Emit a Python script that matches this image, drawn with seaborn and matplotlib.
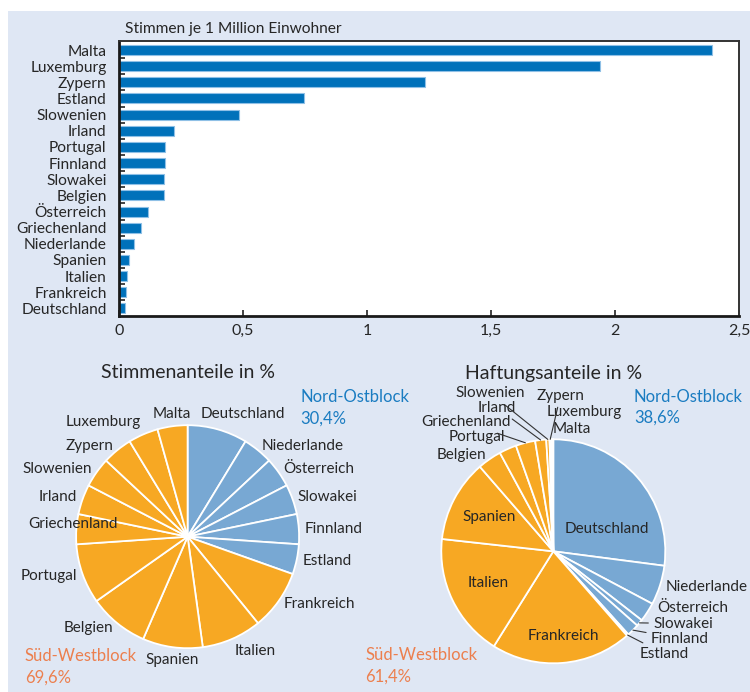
import numpy as np
import pandas as pd
import matplotlib
matplotlib.use("Agg")
import matplotlib.pyplot as plt
import seaborn as sns
from matplotlib.patches import Rectangle

# --- Daten ---
laender_balken = ["Malta", "Luxemburg", "Zypern", "Estland", "Slowenien", "Irland",
                  "Portugal", "Finnland", "Slowakei", "Belgien", "Österreich",
                  "Griechenland", "Niederlande", "Spanien", "Italien", "Frankreich",
                  "Deutschland"]
stimmen_je_mio = [2.39, 1.94, 1.235, 0.745, 0.485, 0.22, 0.187, 0.184, 0.183, 0.181,
                  0.117, 0.087, 0.059, 0.042, 0.031, 0.030, 0.023]

laender_torte = ["Deutschland", "Niederlande", "Österreich", "Slowakei", "Finnland",
                 "Estland", "Frankreich", "Italien", "Spanien", "Belgien", "Portugal",
                 "Griechenland", "Irland", "Slowenien", "Zypern", "Luxemburg", "Malta"]
block = ["NO"] * 6 + ["SW"] * 11
stimmenanteile = [8.70, 4.35, 4.35, 4.35, 4.35, 4.35, 8.70, 8.70, 8.70, 8.70, 8.70,
                  4.35, 4.35, 4.35, 4.35, 4.35, 4.35]
haftungsanteile = [27.07, 5.70, 2.78, 0.99, 1.79, 0.26, 20.33, 17.86, 11.87, 3.47, 2.50,
                   2.81, 1.59, 0.47, 0.20, 0.25, 0.09]

x_ticks = [0, 0.5, 1, 1.5, 2, 2.5]

# --- Farben / Stil ---
BG = "#dfe7f4"
BAR_BLUE = "#0071ba"
PIE_BLUE = "#78a8d3"
PIE_ORANGE = "#f7a823"
TXT_BLUE = "#1a7cc1"
TXT_ORANGE = "#ec7f4e"
TXT = "#262626"
LBL = 11  # Schriftgroesse Beschriftungen

sns.set_theme(style="white")
plt.rcParams["font.family"] = ["Lato", "DejaVu Sans"]
plt.rcParams["text.color"] = TXT

fig = plt.figure(figsize=(7.5, 6.92), dpi=100, facecolor="white")
W, H = 750, 692
fig.patches.append(Rectangle((8 / W, 0), 1, 1 - 11 / H, transform=fig.transFigure,
                             facecolor=BG, edgecolor="none", zorder=-10))


def fmt_de(v):
    return f"{v:g}".replace(".", ",")


# --- Balkendiagramm ---
ax = fig.add_axes([119 / W, 1 - 316 / H, 620 / W, 275 / H])
df = pd.DataFrame({"land": laender_balken, "wert": stimmen_je_mio})
sns.barplot(data=df, x="wert", y="land", orient="h", color=BAR_BLUE, width=0.62,
            edgecolor="#8fc0e6", linewidth=0.8, saturation=1, ax=ax)
ax.set_facecolor("white")
ax.set_xlim(0, 2.5)
ax.set_ylim(16.47, -0.56)
ax.set_xlabel("")
ax.set_ylabel("")
ax.set_xticks(x_ticks)
ax.set_xticklabels([fmt_de(t) for t in x_ticks], fontsize=11.5)
ax.set_yticks(range(len(laender_balken)))
ax.set_yticklabels(laender_balken, fontsize=11.2)
ax.set_yticks(np.arange(0.5, len(laender_balken) - 1, 1), minor=True)
ax.tick_params(axis="y", which="major", length=0, pad=9)
ax.tick_params(axis="y", which="minor", direction="in", length=4, width=1.2,
               color="#222", left=True)
ax.tick_params(axis="x", direction="in", length=4, width=1.2, color="#222",
               bottom=True, pad=6)
for s in ["left", "bottom"]:
    ax.spines[s].set_linewidth(2)
    ax.spines[s].set_color("#1a1a1a")
for s in ["top", "right"]:
    ax.spines[s].set_linewidth(1.4)
    ax.spines[s].set_color("#333333")
fig.text(125 / W, 1 - 29 / H, "Stimmen je 1 Million Einwohner", fontsize=11.2,
         va="center", ha="left")


# --- Tortendiagramme ---
def pie_axes(cx, cy, r):
    half = 1.6 * r
    return fig.add_axes([(cx - half) / W, 1 - (cy + half) / H, 2 * half / W, 2 * half / H])


def auto_pos(ang, dist=1.05):
    c, s = np.cos(np.radians(ang)), np.sin(np.radians(ang))
    ha = "left" if c > 0.2 else ("right" if c < -0.2 else "center")
    va = "bottom" if s > 0.85 else ("top" if s < -0.85 else "center")
    return dist * c, dist * s, ha, va


def draw_pie(ax, werte, titel, title_y, nudge, fixed, inside, leaders, no_pos, sw_pos):
    farben = [PIE_BLUE if b == "NO" else PIE_ORANGE for b in block]
    wedges, _ = ax.pie(werte, colors=farben, startangle=90, counterclock=False,
                       radius=1, wedgeprops=dict(edgecolor="white", linewidth=1.3))
    ax.set_xlim(-1.6, 1.6)
    ax.set_ylim(-1.6, 1.6)
    ax.set_aspect("auto")
    for w, name in zip(wedges, laender_torte):
        ang = (w.theta1 + w.theta2) / 2
        if name in fixed:
            x, y, ha = fixed[name]
            va = "center"
        elif name in inside:
            x, y = 0.65 * np.cos(np.radians(ang)), 0.65 * np.sin(np.radians(ang))
            ha, va = "center", "center"
        else:
            x, y, ha, va = auto_pos(ang)
            dx, dy = nudge.get(name, (0, 0))
            x, y = x + dx, y + dy
        if name in leaders:
            ex, ey = np.cos(np.radians(ang)), np.sin(np.radians(ang))
            ax.annotate(name, xy=(ex, ey), xytext=(x, y), ha=ha, va=va, fontsize=LBL,
                        arrowprops=dict(arrowstyle="-", color="#333", lw=0.8,
                                        shrinkA=1, shrinkB=0))
        else:
            ax.text(x, y, name, ha=ha, va=va, fontsize=LBL)
    ax.text(0, title_y, titel, ha="center", va="center", fontsize=14)
    anteil_no = 100 * sum(v for v, b in zip(werte, block) if b == "NO") / sum(werte)
    ax.text(no_pos[0], no_pos[1], "Nord-Ostblock", color=TXT_BLUE, fontsize=12,
            ha="left", va="center")
    ax.text(no_pos[0], no_pos[1] - 0.19, f"{anteil_no:.1f}%".replace(".", ","),
            color=TXT_BLUE, fontsize=12, ha="left", va="center")
    ax.text(sw_pos[0], sw_pos[1], "Süd-Westblock", color=TXT_ORANGE, fontsize=12,
            ha="left", va="center")
    ax.text(sw_pos[0], sw_pos[1] - 0.19, f"{100 - anteil_no:.1f}%".replace(".", ","),
            color=TXT_ORANGE, fontsize=12, ha="left", va="center")


ax1 = pie_axes(187.6, 536.7, 111.5)
draw_pie(ax1, stimmenanteile, "Stimmenanteile in %", 1.47,
         nudge={"Deutschland": (-0.17, 0.03), "Griechenland": (0.42, 0.04)},
         fixed={}, inside=set(), leaders=set(),
         no_pos=(1.01, 1.25), sw_pos=(-1.46, -1.07))

ax2 = pie_axes(553.3, 551.3, 112)
draw_pie(ax2, haftungsanteile, "Haftungsanteile in %", 1.59,
         nudge={},
         fixed={"Deutschland": (0.48, 0.20, "center"),
                "Frankreich": (0.09, -0.76, "center"),
                "Griechenland": (-0.38, 1.15, "right"),
                "Irland": (-0.33, 1.28, "right"),
                "Slowenien": (-0.25, 1.41, "right"),
                "Zypern": (-0.15, 1.39, "left"),
                "Luxemburg": (-0.06, 1.24, "left"),
                "Malta": (-0.01, 1.09, "left"),
                "Österreich": (0.93, -0.51, "left"),
                "Slowakei": (0.89, -0.645, "left"),
                "Finnland": (0.87, -0.78, "left"),
                "Estland": (0.77, -0.915, "left")},
         inside={"Italien", "Spanien"},
         leaders={"Griechenland", "Irland", "Slowenien", "Zypern",
                  "Slowakei", "Finnland", "Estland"},
         no_pos=(0.72, 1.38), sw_pos=(-1.68, -0.93))

fig.savefig("out.png", dpi=100, facecolor="white")
